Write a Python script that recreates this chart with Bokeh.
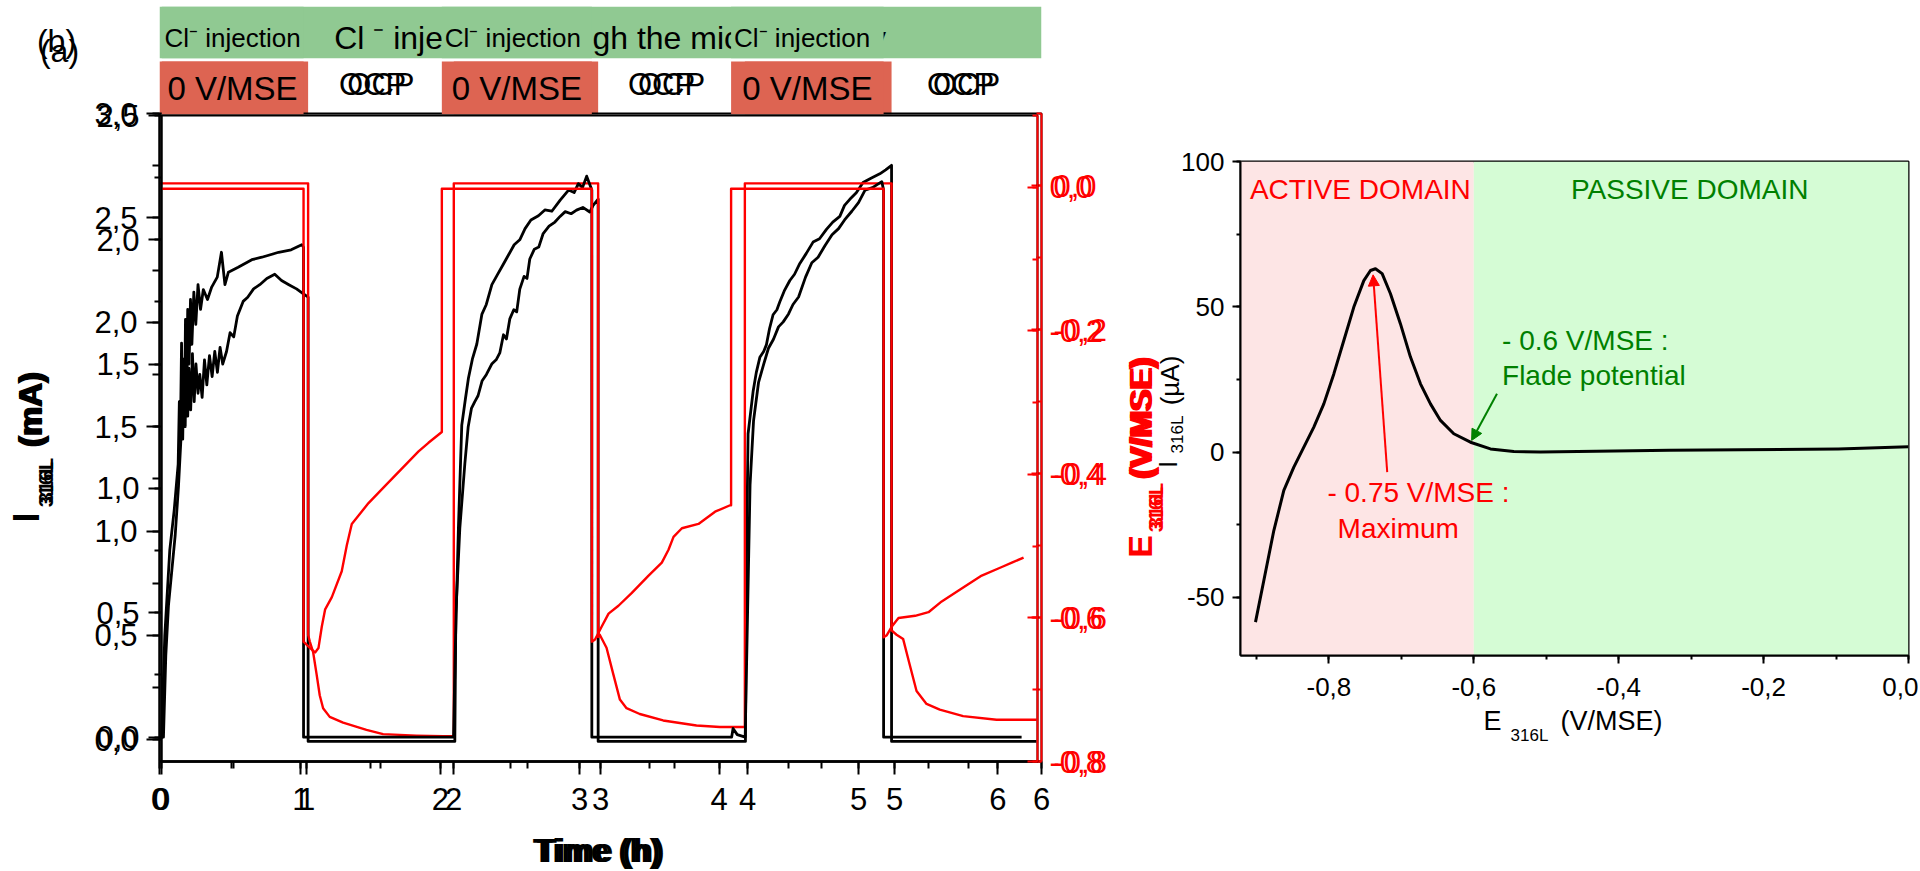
import numpy as np
from bokeh.plotting import figure
from bokeh.models import (Range1d, LinearAxis, SingleIntervalTicker, CustomJSTickFormatter,
                          BoxAnnotation, Arrow, NormalHead)
from bokeh.core.properties import value
from bokeh.embed import file_html
from bokeh.resources import INLINE

# ---------------------------------------------------------------- data
# Panel "P" (current scale 0..3 mA, time axis 0..6 h)
P_T = [0.000, 0.014, 0.036, 0.070, 0.100, 0.127, 0.135, 0.142, 0.150, 0.158, 0.166, 0.175,
       0.183, 0.192, 0.200, 0.212, 0.224, 0.236, 0.248, 0.262, 0.274, 0.290, 0.306, 0.322,
       0.340, 0.358, 0.376, 0.394, 0.412, 0.430, 0.456, 0.480, 0.505, 0.530, 0.569, 0.600,
       0.640, 0.682, 0.730, 0.784, 0.830, 0.880, 0.932, 0.972, 1.011, 1.011, 2.009,
       2.016, 2.043, 2.077, 2.100, 2.122, 2.145, 2.167, 2.195, 2.224, 2.260, 2.290, 2.315,
       2.340, 2.360, 2.383, 2.410, 2.430, 2.451, 2.480, 2.500, 2.519, 2.550, 2.580, 2.610,
       2.650, 2.690, 2.725, 2.760, 2.800, 2.837, 2.880, 2.927, 2.950, 2.984, 2.984, 3.986,
       3.992, 4.004, 4.038, 4.060, 4.084, 4.110, 4.129, 4.150, 4.174, 4.200, 4.220, 4.250,
       4.288, 4.320, 4.356, 4.400, 4.446, 4.490, 4.537, 4.580, 4.628, 4.660, 4.696, 4.740,
       4.786, 4.840, 4.900, 4.940, 4.980, 4.980, 5.966]
P_I = [0.00, 0.01, 0.50, 0.91, 1.10, 1.32, 1.62, 1.45, 1.90, 1.44, 1.80, 1.50,
       1.95, 1.55, 1.78, 1.58, 1.85, 1.62, 1.80, 1.66, 1.75, 1.64, 1.82, 1.70,
       1.84, 1.74, 1.86, 1.76, 1.88, 1.80, 1.86, 1.95, 1.93, 2.03, 2.10, 2.12,
       2.16, 2.18, 2.21, 2.23, 2.20, 2.18, 2.16, 2.14, 2.12, -0.008, -0.008,
       0.605, 1.014, 1.321, 1.500, 1.587, 1.620, 1.648, 1.720, 1.750, 1.800, 1.820, 1.853,
       1.940, 1.920, 2.016, 2.060, 2.050, 2.159, 2.220, 2.210, 2.303, 2.350, 2.360, 2.425,
       2.460, 2.480, 2.507, 2.530, 2.520, 2.537, 2.550, 2.528, 2.560, 2.590, -0.008, -0.008,
       0.810, 1.466, 1.668, 1.760, 1.832, 1.860, 1.893, 1.970, 2.036, 2.060, 2.098, 2.150,
       2.200, 2.230, 2.282, 2.330, 2.384, 2.400, 2.445, 2.480, 2.507, 2.560, 2.589, 2.620,
       2.670, 2.690, 2.711, 2.730, 2.752, -0.008, -0.008]
P_ET = [0.000, 1.011, 1.011, 1.022, 1.045, 1.068, 1.090, 1.113, 1.158, 1.249, 1.408, 1.521,
        1.748, 1.929, 2.002, 2.002, 2.984, 2.984, 2.995, 3.041, 3.086, 3.132, 3.177, 3.267,
        3.426, 3.653, 3.812, 3.982, 3.982, 4.980, 4.980, 5.014, 5.059, 5.104, 5.150, 5.218,
        5.308, 5.467, 5.694, 5.966]
P_E = [0.003, 0.003, -0.624, -0.633, -0.648, -0.678, -0.708, -0.726, -0.738, -0.746, -0.756, -0.762,
       -0.764, -0.765, -0.765, 0.003, 0.003, -0.627, -0.624, -0.642, -0.678, -0.714, -0.726, -0.734,
       -0.743, -0.750, -0.752, -0.752, 0.003, 0.003, -0.618, -0.624, -0.630, -0.666, -0.702, -0.720,
       -0.728, -0.737, -0.742, -0.742]
P_POL_START = [0.0, 2.002, 3.982]
P_POL_END = [1.011, 2.984, 4.980]
P_OCP_START = [1.011, 2.984, 4.980]
P_OCP_END = [2.002, 3.982, 6.0]

# Panel "Q" (current scale 0..2.5 mA)
Q_T = [0.000, 0.014, 0.031, 0.050, 0.074, 0.098, 0.122, 0.146, 0.158, 0.166, 0.172, 0.180,
       0.188, 0.198, 0.208, 0.218, 0.232, 0.246, 0.262, 0.280, 0.300, 0.330, 0.360, 0.400,
       0.430, 0.455, 0.480, 0.550, 0.648, 0.720, 0.840, 0.930, 1.006, 1.019, 1.019, 2.095,
       2.106, 2.130, 2.154, 2.180, 2.202, 2.230, 2.262, 2.298, 2.330, 2.370, 2.410, 2.450,
       2.490, 2.530, 2.570, 2.608, 2.650, 2.704, 2.750, 2.800, 2.860, 2.920, 2.960, 2.990,
       3.020, 3.050, 3.087, 3.087, 4.090, 4.100, 4.130, 4.187,
       4.199, 4.222, 4.247, 4.283, 4.320, 4.354, 4.390, 4.426, 4.460, 4.498, 4.530, 4.570,
       4.620, 4.665, 4.710, 4.760, 4.810, 4.857, 4.900, 4.952, 5.000, 5.047, 5.100, 5.167,
       5.180, 5.180, 6.170]
Q_I = [0.00, 0.00, 0.33, 0.53, 0.67, 0.81, 1.01, 1.27, 1.52, 1.35, 1.68, 1.40,
       1.72, 1.50, 1.76, 1.58, 1.79, 1.66, 1.82, 1.72, 1.80, 1.76, 1.81, 1.85,
       1.95, 1.82, 1.87, 1.89, 1.92, 1.93, 1.95, 1.96, 1.98, 1.97, 0.00, 0.00,
       0.326, 0.842, 1.255, 1.360, 1.444, 1.520, 1.581, 1.700, 1.740, 1.820, 1.860, 1.900,
       1.940, 1.980, 2.000, 2.045, 2.080, 2.097, 2.120, 2.115, 2.160, 2.200, 2.190, 2.226,
       2.210, 2.256, 2.200, 0.00, 0.00, 0.035, 0.010, 0.00,
       0.349, 1.014, 1.272, 1.427, 1.500, 1.564, 1.600, 1.650, 1.670, 1.702, 1.740, 1.770,
       1.850, 1.908, 1.930, 1.977, 2.020, 2.045, 2.080, 2.115, 2.150, 2.200, 2.210, 2.234,
       2.200, 0.00, 0.00]
Q_ET = [0.000, 1.019, 1.019, 1.066, 1.102, 1.126, 1.150, 1.174, 1.222, 1.293, 1.329, 1.365,
        1.485, 1.604, 1.724, 1.844, 1.915, 2.011, 2.011, 3.087, 3.087, 3.110, 3.158, 3.207,
        3.278, 3.374, 3.494, 3.589, 3.637, 3.673, 3.733, 3.852, 3.971, 4.079, 4.086, 4.086,
        5.180, 5.180, 5.203, 5.239, 5.287, 5.406, 5.502, 5.597, 5.740, 5.884, 6.028, 6.100, 6.184]
Q_E = [-0.002, -0.002, -0.633, -0.642, -0.648, -0.642, -0.612, -0.588, -0.571, -0.535, -0.499, -0.469,
       -0.440, -0.416, -0.392, -0.368, -0.356, -0.341, -0.002, -0.002, -0.633, -0.630, -0.612, -0.594,
       -0.583, -0.565, -0.541, -0.523, -0.505, -0.487, -0.475, -0.469, -0.452, -0.443, -0.443, -0.002,
       -0.002, -0.627, -0.624, -0.612, -0.600, -0.597, -0.592, -0.577, -0.559, -0.541, -0.529, -0.523, -0.516]
Q_POL_START = [0.0, 2.011, 4.086]
Q_POL_END = [1.019, 3.087, 5.180]
Q_OCP_START = [1.019, 3.087, 5.180]
Q_OCP_END = [2.011, 4.086, 6.284]

# Right panel: polarisation curve
POL_E = [-0.9013, -0.8898, -0.8760, -0.8622, -0.8484, -0.8346, -0.8208, -0.8070, -0.7932,
         -0.7794, -0.7656, -0.7518, -0.7426, -0.7357, -0.7265, -0.7150, -0.7012, -0.6874,
         -0.6736, -0.6598, -0.6460, -0.6276, -0.6046, -0.5770, -0.5448, -0.5080, -0.4310,
         -0.3300, -0.2300, -0.0970, 0.0000]
POL_I = [-58.5, -44.2, -27.0, -13.2, -5.2, 1.7, 8.6, 16.6, 26.9,
         38.4, 49.9, 59.0, 62.5, 63.1, 61.4, 54.5, 44.1, 32.7,
         23.5, 16.6, 10.9, 6.3, 3.4, 1.1, 0.2, 0.0, 0.3,
         0.6, 0.8, 1.1, 1.8]
FLADE_E = -0.6
MAX_E = -0.739
MAX_I = 61.0
FLADE_I = 4.0

# ---------------------------------------------------------------- style
W, H = 1918, 869
FONT = "Liberation Sans"
RED = "#FF0000"
DGREEN = "#008000"
BOX_RED = "#DD6452"
BOX_GREEN = "#90C992"
OVER = {"position": "absolute", "left": "0px", "top": "0px"}


def comma(dec):
    return CustomJSTickFormatter(code="return tick.toFixed(%d).replace('.', ',');" % dec)


def make_fig(left, right, top, bottom, xr, yr, axes=True):
    kw = dict(width=W, height=H, x_range=xr, y_range=yr, output_backend="svg",
              toolbar_location=None, tools="", title=None,
              min_border_left=left, min_border_right=W - right,
              min_border_top=top, min_border_bottom=H - bottom,
              background_fill_alpha=0, border_fill_alpha=0, styles=dict(OVER))
    if not axes:
        kw.update(x_axis_type=None, y_axis_type=None)
    p = figure(**kw)
    p.xgrid.visible = False
    p.ygrid.visible = False
    p.outline_line_color = "black" if axes else None
    p.outline_line_width = 2
    return p


def style_axis(ax, interval, dec, size, color="black", out=13, mout=7, tin=0, mtin=0, standoff=9):
    ax.ticker = SingleIntervalTicker(interval=interval, num_minor_ticks=2)
    ax.formatter = comma(dec)
    ax.axis_line_color = color
    ax.axis_line_width = 2
    ax.major_tick_line_color = color
    ax.minor_tick_line_color = color
    ax.major_tick_line_width = 2
    ax.minor_tick_line_width = 2
    ax.major_tick_out = out
    ax.minor_tick_out = mout
    ax.major_tick_in = tin
    ax.minor_tick_in = mtin
    ax.major_label_text_font = FONT
    ax.major_label_text_font_size = size
    ax.major_label_text_color = color
    ax.major_label_standoff = standoff


def put_text(p, x, y, text, size, color="black", style="normal", angle=0.0,
             align="center", baseline="middle", x_offset=0):
    p.text(x=[x], y=[y], text=[text], text_font=value(FONT), text_font_size="%dpx" % size,
           text_color=color, text_font_style=style, angle=angle, text_align=align,
           text_baseline=baseline, x_offset=x_offset)


def time_panel(left, right, top, t, i, et, e, i_range, t_end):
    p = make_fig(left, right, top, 761, Range1d(0, t_end), Range1d(*i_range))
    p.extra_y_ranges = {"E": Range1d(-0.8, 0.1)}
    style_axis(p.xaxis[0], 1, 0, "31px", standoff=13)
    style_axis(p.yaxis[0], 0.5, 1, "31px", standoff=9)
    eax = LinearAxis(y_range_name="E")
    style_axis(eax, 0.2, 1, "31px", color=RED, out=0, mout=0, tin=10, mtin=5, standoff=12)
    p.add_layout(eax, "right")
    p.line(t, i, line_color="black", line_width=2.8, line_join="round")
    p.line(et, e, line_color=RED, line_width=2.4, y_range_name="E", line_join="round")
    return p


def header(left, right, xr, pol_s, pol_e, ocp_s, ocp_e, full_bar):
    h = make_fig(left, right, 6, 114, xr, Range1d(0, 2), axes=False)
    if full_bar:
        h.quad(left=[xr.start], right=[xr.end], bottom=[1.04], top=[2.0],
               fill_color=BOX_GREEN, line_color=None)
    else:
        h.quad(left=pol_s, right=pol_e, bottom=1.04, top=2.0, fill_color=BOX_GREEN, line_color=None)
    h.quad(left=pol_s, right=pol_e, bottom=0.0, top=0.98, fill_color=BOX_RED, line_color=None)
    pc = (np.array(pol_s) + np.array(pol_e)) / 2
    oc = (np.array(ocp_s) + np.array(ocp_e)) / 2
    h.text(x=list(pc), y=[0.49] * 3, text=["0 V/MSE"] * 3, text_font=value(FONT),
           text_font_size="33px", text_align="center", text_baseline="middle")
    h.text(x=list(oc), y=[0.55] * 3, text=["OCP"] * 3, text_font=value(FONT),
           text_font_size="31px", text_align="center", text_baseline="middle")
    return h


# ---------------------------------------------------------------- right panel
pR = make_fig(1240, 1908, 161, 655, Range1d(-0.922, 0.0), Range1d(-70, 100))
pR.add_layout(BoxAnnotation(right=FLADE_E, fill_color="#FDE5E5", fill_alpha=1.0,
                            line_color=None, level="underlay"))
pR.add_layout(BoxAnnotation(left=FLADE_E, fill_color="#D5FCD5", fill_alpha=1.0,
                            line_color=None, level="underlay"))
style_axis(pR.xaxis[0], 0.2, 1, "26px", out=8, mout=4, standoff=14)
style_axis(pR.yaxis[0], 50, 0, "26px", out=8, mout=4, standoff=8)
pR.line(POL_E, POL_I, line_color="black", line_width=3.0, line_join="round")
put_text(pR, -0.909, 90.4, "ACTIVE DOMAIN", 28, RED, align="left")
put_text(pR, -0.302, 90.4, "PASSIVE DOMAIN", 28, DGREEN)
put_text(pR, -0.561, 38.4, "- 0.6 V/MSE :", 28, DGREEN, align="left")
put_text(pR, -0.561, 26.2, "Flade potential", 28, DGREEN, align="left")
put_text(pR, -0.802, -13.9, "- 0.75 V/MSE :", 28, RED, align="left")
put_text(pR, -0.788, -26.3, "Maximum", 28, RED, align="left")
pR.add_layout(Arrow(end=NormalHead(size=11, fill_color=RED, line_color=RED),
                    x_start=-0.7195, y_start=-6.9, x_end=MAX_E, y_end=MAX_I,
                    line_color=RED, line_width=2))
pR.add_layout(Arrow(end=NormalHead(size=11, fill_color=DGREEN, line_color=DGREEN),
                    x_start=-0.568, y_start=20.1, x_end=-0.603, y_end=FLADE_I,
                    line_color=DGREEN, line_width=2))

# ---------------------------------------------------------------- left panels (overlaid)
pP = time_panel(159, 1041, 113, P_T, P_I, P_ET, P_E, (-0.104, 3.0), 6.0)
pQ = time_panel(161, 1037, 115, Q_T, Q_I, Q_ET, Q_E, (-0.098, 2.5), 6.284)

hP = header(159, 1041, pP.x_range, P_POL_START, P_POL_END, P_OCP_START, P_OCP_END, True)
put_text(hP, 3.065, 1.42, "Cl \u207b injection through the microcapillary", 32)
hQ = header(161, 1037, pQ.x_range, Q_POL_START, Q_POL_END, Q_OCP_START, Q_OCP_END, False)
hQ.text(x=Q_POL_START, y=[1.42] * 3, text=["Cl\u207b injection"] * 3, text_font=value(FONT),
        text_font_size="26px", text_align="left", text_baseline="middle", x_offset=3)

# ---------------------------------------------------------------- free labels (pixel layout)
ov = make_fig(0, W, 0, H, Range1d(0, W), Range1d(0, H), axes=False)
A90 = np.pi / 2
LABELS = [
    ("(b)", 56, 40, 32, "black", "normal", 0.0),
    ("(a)", 59, 50, 32, "black", "normal", 0.0),
    ("I", 26, 517, 36, "black", "bold", A90),
    ("316L", 45, 480, 20, "black", "bold", A90),
    ("316L", 45, 484, 20, "black", "bold", A90),
    ("(mA)", 30, 408, 33, "black", "bold", A90),
    ("(mA)", 30, 410, 33, "black", "bold", A90),
    ("Time (h)", 596, 850, 33, "black", "bold", 0.0),
    ("Time (h)", 600, 850, 33, "black", "bold", 0.0),
    ("E", 1139, 546, 34, RED, "bold", A90),
    ("316L", 1155, 505, 20, RED, "bold", A90),
    ("316L", 1155, 509, 20, RED, "bold", A90),
    ("(V/MSE)", 1140, 416, 32, RED, "bold", A90),
    ("(V/MSE)", 1140, 419, 32, RED, "bold", A90),
    ("I", 1167, 464, 26, "black", "normal", A90),
    ("316L", 1177, 434, 17, "black", "normal", A90),
    ("(\u00b5A)", 1169, 380, 26, "black", "normal", A90),
    ("E", 1492, 720, 27, "black", "normal", 0.0),
    ("316L", 1529, 735, 17, "black", "normal", 0.0),
    ("(V/MSE)", 1611, 720, 27, "black", "normal", 0.0),
]
for txt, x, y, s, c, st, a in LABELS:
    put_text(ov, x, H - y, txt, s, c, st, a)

roots = [pR, hP, pP, hQ, pQ, ov]
open("out.html", "w").write(file_html(roots, INLINE))
